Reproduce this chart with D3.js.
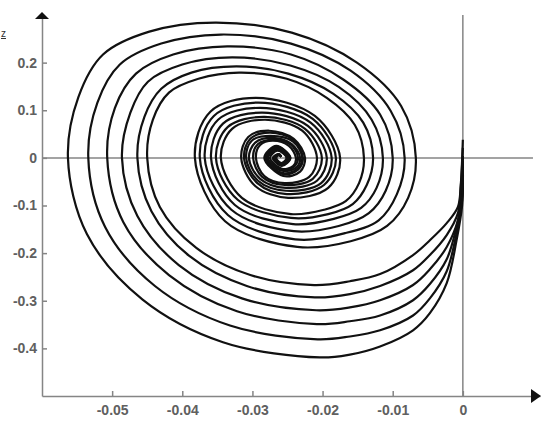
<!DOCTYPE html>
<html>
<head>
<meta charset="utf-8">
<script src="https://d3js.org/d3.v7.min.js"></script>
<style>
  body { margin: 0; background: #fff; }
  svg { display: block; }
</style>
</head>
<body>
<div id="chart"></div>
<script>
// tick values
var xTicks = [-0.05, -0.04, -0.03, -0.02, -0.01, 0];
var xLabels = ["-0.05", "-0.04", "-0.03", "-0.02", "-0.01", "0"];
var yTicks = [0.2, 0.1, 0, -0.1, -0.2, -0.3, -0.4];
var yLabels = ["0.2", "0.1", "0", "-0.1", "-0.2", "-0.3", "-0.4"];

// six trajectories [x, y], outermost first
var orbit1 = [[0,-0.046],[-0.0001,-0.099],[-0.0009,-0.173],[-0.0023,-0.263],[-0.0047,-0.326],[-0.0071,-0.362],[-0.0118,-0.396],[-0.0161,-0.413],
  [-0.0204,-0.419],[-0.0342,-0.387],[-0.0457,-0.297],[-0.0536,-0.160],[-0.0563,0],[-0.0548,0.128],[-0.0513,0.217],[-0.0447,0.265],
  [-0.0353,0.284],[-0.0244,0.263],[-0.0151,0.200],[-0.0088,0.109],[-0.0067,0],[-0.0078,-0.084],[-0.0108,-0.143],[-0.0160,-0.175],
  [-0.0236,-0.187],[-0.0339,-0.133],[-0.0382,0],[-0.0360,0.097],[-0.0295,0.126],[-0.0211,0.088],[-0.0175,0],[-0.0192,-0.063],
  [-0.0249,-0.084],[-0.0296,-0.059],[-0.0316,0],[-0.0306,0.044],[-0.0276,0.057],[-0.0241,0.040],[-0.0225,0],[-0.0232,-0.029],
  [-0.0256,-0.038],[-0.0283,0],[-0.0266,0.025],[-0.0246,0],[-0.0258,-0.017],[-0.0271,0],[-0.0262,0.008],[-0.0259,0.002]];
var orbit2 = [[0,-0.029],[-0.0001,-0.088],[-0.0009,-0.158],[-0.0023,-0.238],[-0.0047,-0.295],[-0.0071,-0.331],[-0.0118,-0.362],[-0.0161,-0.375],
  [-0.0207,-0.381],[-0.0332,-0.352],[-0.0439,-0.269],[-0.0510,-0.145],[-0.0534,0],[-0.0521,0.116],[-0.0489,0.196],[-0.0430,0.240],
  [-0.0345,0.259],[-0.0245,0.240],[-0.0160,0.183],[-0.0103,0.099],[-0.0083,0],[-0.0094,-0.076],[-0.0120,-0.131],[-0.0168,-0.158],
  [-0.0239,-0.171],[-0.0335,-0.120],[-0.0375,0],[-0.0355,0.088],[-0.0292,0.116],[-0.0214,0.082],[-0.0181,0],[-0.0198,-0.057],
  [-0.0251,-0.076],[-0.0293,-0.053],[-0.0312,0],[-0.0303,0.040],[-0.0275,0.053],[-0.0242,0.038],[-0.0228,0],[-0.0235,-0.025],
  [-0.0256,-0.034],[-0.0282,0],[-0.0265,0.023],[-0.0246,0],[-0.0259,-0.015],[-0.0269,0],[-0.0262,0.008],[-0.0259,0.002]];
var orbit3 = [[0,-0.013],[-0.0001,-0.080],[-0.0009,-0.145],[-0.0023,-0.213],[-0.0047,-0.265],[-0.0071,-0.299],[-0.0118,-0.331],[-0.0161,-0.343],
  [-0.0208,-0.349],[-0.0322,-0.322],[-0.0419,-0.246],[-0.0484,-0.135],[-0.0507,0],[-0.0496,0.105],[-0.0466,0.177],[-0.0413,0.217],
  [-0.0336,0.234],[-0.0245,0.217],[-0.0170,0.164],[-0.0118,0.091],[-0.0100,0],[-0.0110,-0.069],[-0.0134,-0.116],[-0.0177,-0.143],
  [-0.0241,-0.154],[-0.0330,-0.109],[-0.0368,0],[-0.0349,0.080],[-0.0289,0.105],[-0.0217,0.074],[-0.0187,0],[-0.0202,-0.053],
  [-0.0252,-0.069],[-0.0292,-0.048],[-0.0309,0],[-0.0301,0.036],[-0.0274,0.046],[-0.0242,0.034],[-0.0229,0],[-0.0236,-0.023],
  [-0.0256,-0.032],[-0.0281,0],[-0.0265,0.021],[-0.0248,0],[-0.0259,-0.013],[-0.0269,0],[-0.0262,0.006],[-0.0259,0.002]];
var orbit4 = [[0,0.004],[-0.0001,-0.072],[-0.0007,-0.131],[-0.0023,-0.187],[-0.0047,-0.234],[-0.0071,-0.267],[-0.0118,-0.299],[-0.0161,-0.314],
  [-0.0209,-0.320],[-0.0315,-0.295],[-0.0405,-0.225],[-0.0464,-0.122],[-0.0486,0],[-0.0474,0.095],[-0.0449,0.160],[-0.0400,0.196],
  [-0.0329,0.211],[-0.0246,0.194],[-0.0177,0.149],[-0.0130,0.080],[-0.0114,0],[-0.0123,-0.063],[-0.0145,-0.105],[-0.0184,-0.128],
  [-0.0242,-0.139],[-0.0325,-0.099],[-0.0359,0],[-0.0342,0.072],[-0.0286,0.095],[-0.0221,0.067],[-0.0194,0],[-0.0208,-0.048],
  [-0.0252,-0.063],[-0.0289,-0.044],[-0.0305,0],[-0.0296,0.032],[-0.0272,0.042],[-0.0244,0.029],[-0.0232,0],[-0.0238,-0.021],
  [-0.0258,-0.027],[-0.0279,0],[-0.0265,0.019],[-0.0249,0],[-0.0259,-0.013],[-0.0268,0],[-0.0262,0.006],[-0.0259,0.002]];
var orbit5 = [[0,0.021],[-0.0003,-0.063],[-0.0007,-0.116],[-0.0023,-0.162],[-0.0047,-0.204],[-0.0071,-0.236],[-0.0118,-0.269],[-0.0161,-0.286],
  [-0.0211,-0.293],[-0.0308,-0.269],[-0.0390,-0.206],[-0.0444,-0.112],[-0.0464,0],[-0.0454,0.086],[-0.0430,0.145],[-0.0387,0.179],
  [-0.0323,0.192],[-0.0249,0.177],[-0.0185,0.135],[-0.0142,0.074],[-0.0128,0],[-0.0137,-0.057],[-0.0157,-0.097],[-0.0192,-0.118],
  [-0.0245,-0.126],[-0.0321,-0.088],[-0.0352,0],[-0.0335,0.065],[-0.0283,0.086],[-0.0225,0.061],[-0.0201,0],[-0.0214,-0.044],
  [-0.0254,-0.057],[-0.0286,-0.040],[-0.0299,0],[-0.0292,0.029],[-0.0271,0.038],[-0.0245,0.027],[-0.0235,0],[-0.0241,-0.019],
  [-0.0258,-0.025],[-0.0278,0],[-0.0264,0.017],[-0.0251,0],[-0.0259,-0.011],[-0.0268,0],[-0.0262,0.006],[-0.0259,0.002]];
var orbit6 = [[0,0.038],[-0.0003,-0.057],[-0.0007,-0.103],[-0.0023,-0.137],[-0.0047,-0.173],[-0.0071,-0.204],[-0.0118,-0.244],[-0.0161,-0.259],
  [-0.0212,-0.267],[-0.0303,-0.246],[-0.0380,-0.189],[-0.0432,-0.103],[-0.0450,0],[-0.0442,0.080],[-0.0419,0.137],[-0.0377,0.166],
  [-0.0319,0.179],[-0.0251,0.166],[-0.0194,0.126],[-0.0154,0.069],[-0.0141,0],[-0.0148,-0.053],[-0.0167,-0.091],[-0.0198,-0.109],
  [-0.0245,-0.118],[-0.0315,-0.084],[-0.0345,0],[-0.0329,0.061],[-0.0282,0.080],[-0.0229,0.057],[-0.0208,0],[-0.0219,-0.040],
  [-0.0254,-0.053],[-0.0283,-0.038],[-0.0295,0],[-0.0289,0.027],[-0.0271,0.036],[-0.0248,0.025],[-0.0238,0],[-0.0242,-0.017],
  [-0.0258,-0.023],[-0.0275,0],[-0.0264,0.015],[-0.0251,0],[-0.0259,-0.011],[-0.0266,0],[-0.0262,0.006],[-0.0259,0.002]];
var orbits = [orbit1, orbit2, orbit3, orbit4, orbit5, orbit6];

var width = 547, height = 425;
var x = d3.scaleLinear().domain([-0.06, 0.011]).range([42, 540]);
var y = d3.scaleLinear().domain([-0.5, 0.3]).range([396, 15]);
var axisGrey = "#858585";

var svg = d3.select("#chart")
  .append("svg")
    .attr("width", width)
    .attr("height", height)
    .style("background", "#fff");

// reference lines through the origin
svg.append("line")
    .attr("x1", x(-0.06)).attr("x2", x(0.01))
    .attr("y1", y(0)).attr("y2", y(0))
    .attr("stroke", axisGrey).attr("stroke-width", 1.5);
svg.append("line")
    .attr("x1", x(0)).attr("x2", x(0))
    .attr("y1", y(0.3)).attr("y2", y(-0.5))
    .attr("stroke", axisGrey).attr("stroke-width", 1.5);

// trajectories
var line = d3.line()
    .curve(d3.curveCatmullRom.alpha(0.5))
    .x(function(d) { return x(d[0]); })
    .y(function(d) { return y(d[1]); });

svg.selectAll(".orbit")
    .data(orbits)
  .enter().append("path")
    .attr("class", "orbit")
    .attr("d", line)
    .attr("fill", "none")
    .attr("stroke", "#111")
    .attr("stroke-width", 2.2);

// X axis
var xAxis = svg.append("g")
    .attr("transform", "translate(0," + y(-0.5) + ")")
    .call(d3.axisBottom(x)
      .tickValues(xTicks)
      .tickFormat(function(d, i) { return xLabels[i]; })
      .tickSizeInner(-5)
      .tickSizeOuter(0)
      .tickPadding(9));

// Y axis
var yAxis = svg.append("g")
    .attr("transform", "translate(" + x(-0.06) + ",0)")
    .call(d3.axisLeft(y)
      .tickValues(yTicks)
      .tickFormat(function(d, i) { return yLabels[i]; })
      .tickSizeInner(-5)
      .tickSizeOuter(0)
      .tickPadding(5));

[xAxis, yAxis].forEach(function(g) {
  g.select(".domain").attr("stroke", axisGrey).attr("stroke-width", 1.5);
  g.selectAll(".tick line").attr("stroke", axisGrey).attr("stroke-width", 1.5);
  g.selectAll(".tick text")
    .attr("fill", "#606060")
    .style("font-family", "'Liberation Sans', Arial, sans-serif")
    .style("font-size", "14px")
    .style("font-weight", "bold");
});

// arrow heads
var ax = x(-0.06), ay = y(0.3), bx = x(0.011), by = y(-0.5);
svg.append("path")
    .attr("d", "M" + (ax - 7) + "," + (ay + 4) + "L" + ax + "," + (ay - 3) + "L" + (ax + 7) + "," + (ay + 4) + "Z")
    .attr("fill", "#111");
svg.append("path")
    .attr("d", "M" + (bx - 9) + "," + (by - 7) + "L" + (bx + 1) + "," + by + "L" + (bx - 9) + "," + (by + 7) + "Z")
    .attr("fill", "#111");

// small axis label at the left edge
svg.append("text")
    .attr("x", 1).attr("y", 37)
    .style("font-family", "'Liberation Sans', Arial, sans-serif")
    .style("font-size", "10px")
    .style("text-decoration", "underline")
    .attr("fill", "#333")
    .text("z");
</script>
</body>
</html>
